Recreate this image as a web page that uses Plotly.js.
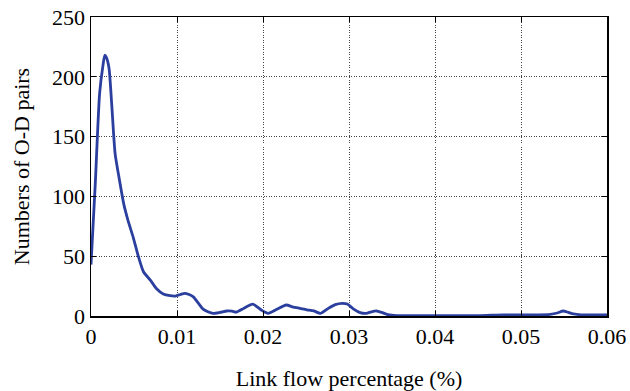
<!DOCTYPE html>
<html>
<head>
<meta charset="utf-8">
<script src="https://cdn.plot.ly/plotly-3.0.1.min.js"></script>
<style>html,body{margin:0;padding:0;background:#fff;}#chart{width:630px;height:391px;}</style>
</head>
<body>
<div id="chart"></div>
<script>
const linkFlow = [0, 0.0005, 0.001, 0.0014, 0.0016, 0.0018, 0.0021, 0.0024, 0.0028, 0.0033, 0.0038, 0.0043, 0.0049, 0.0055, 0.0061, 0.0069, 0.0076, 0.0084, 0.0092, 0.0098, 0.0104, 0.0109, 0.0114, 0.0119, 0.0125, 0.013, 0.0136, 0.0142, 0.015, 0.0158, 0.0164, 0.0169, 0.0178, 0.0188, 0.0198, 0.0206, 0.0216, 0.0227, 0.0235, 0.0243, 0.0251, 0.0259, 0.0267, 0.0276, 0.0284, 0.0292, 0.0298, 0.0305, 0.0313, 0.032, 0.0326, 0.0332, 0.0338, 0.0344, 0.0352, 0.0363, 0.04, 0.045, 0.048, 0.052, 0.0534, 0.0542, 0.0549, 0.0555, 0.0561, 0.057, 0.06];
const odPairs = [43, 111, 186, 210, 218, 216, 207, 178, 136, 114, 94, 80, 66, 50, 37, 30, 23, 18.4, 17, 16.7, 18, 19, 18, 16, 10.6, 6, 3.6, 2.2, 3, 4.2, 4, 3.3, 6.5, 10, 5, 2.2, 5.6, 9.2, 7.5, 6.4, 5.2, 4.2, 2.2, 6.4, 9.5, 10.6, 10, 6, 2.8, 2.2, 3.5, 4.2, 3, 1.4, 0.6, 0.3, 0.3, 0.3, 1, 1, 1.4, 2.5, 4.2, 3, 1.7, 1, 1];
const xTicks = [0, 0.01, 0.02, 0.03, 0.04, 0.05, 0.06];
const xTickText = ["0", "0.01", "0.02", "0.03", "0.04", "0.05", "0.06"];
const yTicks = [0, 50, 100, 150, 200, 250];

const font = {family: "Liberation Serif, Times New Roman, serif", size: 22, color: "#000"};

const trace = {
  x: linkFlow, y: odPairs, type: "scatter", mode: "lines",
  line: {color: "#2b3f9e", width: 2.8, shape: "spline", smoothing: 0.6},
  hoverinfo: "skip"
};

const axisCommon = {
  showline: true, linecolor: "#000", linewidth: 1.5, mirror: "ticks",
  ticks: "inside", ticklen: 5, tickcolor: "#000", tickwidth: 1,
  showgrid: true, gridcolor: "#444", griddash: "1px,1.5px", gridwidth: 1,
  zeroline: false, tickfont: font
};

const layout = {
  width: 630, height: 391,
  margin: {l: 91, r: 23, t: 17, b: 75},
  paper_bgcolor: "#fff", plot_bgcolor: "#fff",
  showlegend: false,
  font: font,
  xaxis: Object.assign({}, axisCommon, {
    range: [0, 0.06], tickvals: xTicks, ticktext: xTickText,
    title: {text: "Link flow percentage (%)", font: font, standoff: 22}
  }),
  yaxis: Object.assign({}, axisCommon, {
    range: [0, 250], tickvals: yTicks,
    title: {text: "Numbers of O-D pairs", font: font, standoff: 16}
  })
};

Plotly.newPlot("chart", [trace], layout, {staticPlot: true, displayModeBar: false});
</script>
</body>
</html>
